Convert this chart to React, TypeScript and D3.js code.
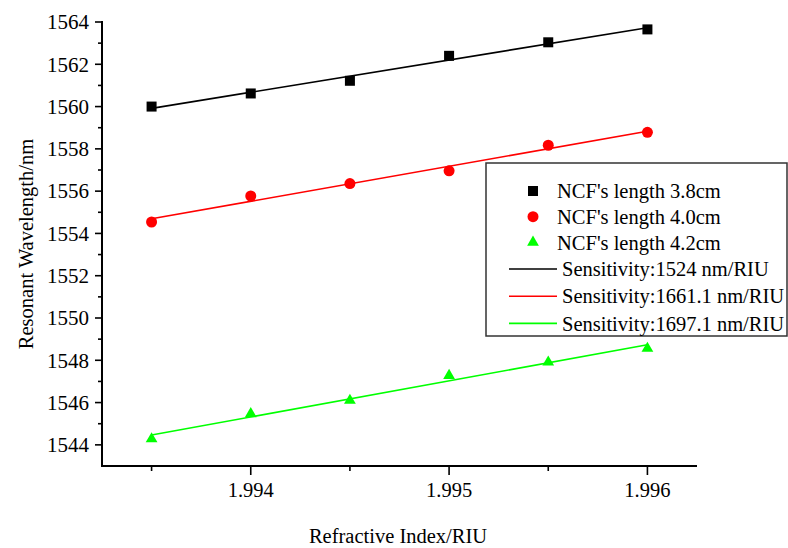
import React from "react";
import * as d3 from "d3";

const xValues = [1.9935, 1.994, 1.9945, 1.995, 1.9955, 1.996];
const series38 = [1560.0, 1560.62, 1561.22, 1562.4, 1563.04, 1563.65];
const series40 = [1554.54, 1555.77, 1556.36, 1556.96, 1558.17, 1558.78];
const series42 = [1544.28, 1545.47, 1546.1, 1547.28, 1547.91, 1548.56];
const seriesLabels = ["NCF's length 3.8cm", "NCF's length 4.0cm", "NCF's length 4.2cm"];
const fitLabels = ["Sensitivity:1524 nm/RIU", "Sensitivity:1661.1 nm/RIU", "Sensitivity:1697.1 nm/RIU"];
const colors = ["#000000", "#ff0000", "#00ff00"];
const shapes = ["square", "circle", "triangle"];
const xMajorTicks = [1.994, 1.995, 1.996];
const xMinorTicks = [1.9935, 1.9945, 1.9955];
const yMajorTicks = [1544, 1546, 1548, 1550, 1552, 1554, 1556, 1558, 1560, 1562, 1564];
const yMinorTicks = [1545, 1547, 1549, 1551, 1553, 1555, 1557, 1559, 1561, 1563];

const W = 788, H = 548;
const FONT = "Liberation Serif, Times New Roman, serif";

function fit(xs: number[], ys: number[]) {
  const n = xs.length;
  const mx = d3.mean(xs)!;
  const my = d3.mean(ys)!;
  let sxy = 0, sxx = 0;
  for (let i = 0; i < n; i++) {
    sxy += (xs[i] - mx) * (ys[i] - my);
    sxx += (xs[i] - mx) ** 2;
  }
  const b = sxy / sxx;
  const a = my - b * mx;
  return (x: number) => a + b * x;
}

function Marker({ shape, x, y, color }: { shape: string; x: number; y: number; color: string }) {
  if (shape === "square") return <rect x={x - 5} y={y - 5} width={10} height={10} fill={color} />;
  if (shape === "circle") return <circle cx={x} cy={y} r={5.5} fill={color} />;
  const sym = d3.symbol().type(d3.symbolTriangle).size(60)();
  return <path d={sym || ""} transform={`translate(${x},${y})`} fill={color} />;
}

export default function App() {
  const x = d3.scaleLinear().domain([1.99325, 1.99625]).range([102, 697]);
  const y = d3.scaleLinear().domain([1543, 1564]).range([466, 22]);
  const allSeries = [series38, series40, series42];
  const line = d3.line<[number, number]>().x((d) => x(d[0])).y((d) => y(d[1]));
  const ts = { fontFamily: FONT };

  return (
    <svg width={W} height={H} style={{ position: "absolute", left: 0, top: 0, background: "#fff", fontFamily: FONT }}>
      <rect width={W} height={H} fill="#fff" />
      {allSeries.map((s, i) => {
        const f = fit(xValues, s);
        const x0 = xValues[0], x1 = xValues[xValues.length - 1];
        return (
          <path key={"fit" + i} d={line([[x0, f(x0)], [x1, f(x1)]]) || ""} stroke={colors[i]} strokeWidth={1.6} fill="none" />
        );
      })}
      {allSeries.map((s, i) =>
        s.map((v, j) => <Marker key={`m${i}-${j}`} shape={shapes[i]} x={x(xValues[j])} y={y(v)} color={colors[i]} />)
      )}
      <line x1={x.range()[0]} x2={x.range()[0]} y1={y(1564) - 1} y2={y.range()[0]} stroke="#000" strokeWidth={2} />
      <line x1={x.range()[0] - 1} x2={x.range()[1]} y1={y.range()[0]} y2={y.range()[0]} stroke="#000" strokeWidth={2} />
      {yMajorTicks.map((t) => (
        <g key={"ym" + t}>
          <line x1={102} x2={95} y1={y(t)} y2={y(t)} stroke="#000" strokeWidth={1.6} />
          <text x={89} y={y(t)} dy="0.35em" textAnchor="end" fontSize={21} style={ts}>{t}</text>
        </g>
      ))}
      {yMinorTicks.map((t) => (
        <line key={"yn" + t} x1={102} x2={98} y1={y(t)} y2={y(t)} stroke="#000" strokeWidth={1.6} />
      ))}
      {xMajorTicks.map((t) => (
        <g key={"xm" + t}>
          <line x1={x(t)} x2={x(t)} y1={466} y2={475} stroke="#000" strokeWidth={1.6} />
          <text x={x(t)} y={497} textAnchor="middle" fontSize={20.5} style={ts}>{d3.format(".3f")(t)}</text>
        </g>
      ))}
      {xMinorTicks.map((t) => (
        <line key={"xn" + t} x1={x(t)} x2={x(t)} y1={466} y2={471} stroke="#000" strokeWidth={1.6} />
      ))}
      <text x={398} y={543} textAnchor="middle" fontSize={20.5} style={ts}>Refractive Index/RIU</text>
      <text transform={`translate(33,${(22 + 466) / 2}) rotate(-90)`} textAnchor="middle" fontSize={20.5} style={ts}>Resonant Wavelength/nm</text>
      <rect x={486} y={163} width={301} height={173} fill="#fff" stroke="#333" strokeWidth={1.5} />
      {seriesLabels.map((lab, i) => {
        const cy = 191 + i * 25.7;
        return (
          <g key={"ls" + i}>
            <Marker shape={shapes[i]} x={533} y={cy} color={colors[i]} />
            <text x={557} y={cy} dy="0.35em" fontSize={20.5} style={ts}>{lab}</text>
          </g>
        );
      })}
      {fitLabels.map((lab, i) => {
        const cy = 269 + i * 27.2;
        return (
          <g key={"lf" + i}>
            <line x1={509} x2={557} y1={cy} y2={cy} stroke={colors[i]} strokeWidth={1.6} />
            <text x={562} y={cy} dy="0.35em" fontSize={20.5} style={ts}>{lab}</text>
          </g>
        );
      })}
    </svg>
  );
}
